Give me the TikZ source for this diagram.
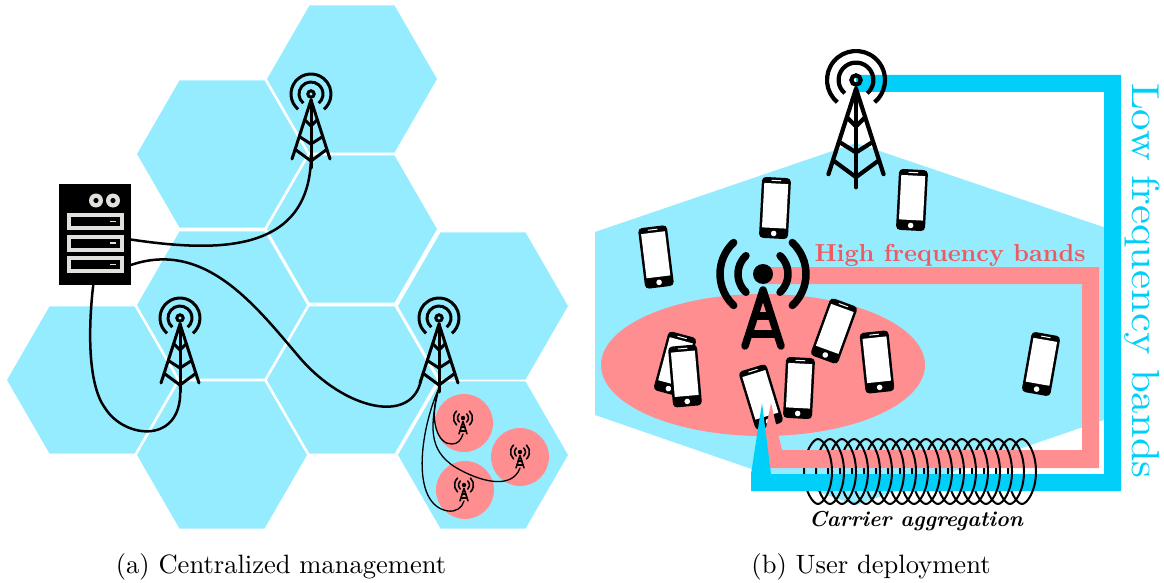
\documentclass[tikz,border=0pt]{standalone}
\usepackage{amsmath}
\usepackage{xcolor}
\usetikzlibrary{shapes.geometric}
\definecolor{cellblue}{HTML}{96ECFF}
\definecolor{lowblue}{HTML}{00CFFA}
\definecolor{highred}{HTML}{FF8E91}
\definecolor{textred}{HTML}{EF5A60}
\definecolor{rackgray}{HTML}{E2E0DC}
\tikzset{
  hexcell/.style={regular polygon, regular polygon sides=6, fill=cellblue, minimum size=170pt, inner sep=0pt},
  wire/.style={black, line width=2.5pt, line cap=round},
  thinwire/.style={black, line width=1.3pt, line cap=round},
  coil/.style={black, line width=2pt},
  tower/.pic={
    \draw[line cap=round, fill=none] (0,0) circle (3.2);
    \draw[line cap=butt] (130:12) arc (130:410:12);
    \draw[line cap=butt] (130:20) arc (130:410:20);
    \draw[line cap=round, line join=round] (-19,65) -- (0,6) -- (19,65);
    \draw[line cap=round] (0,6) -- (0,74);
    \draw[line cap=round, line join=round] (-15,56) -- (0,67) -- (15,56);
    \draw[line cap=round, line join=round] (-11,43) -- (0,50) -- (11,43);
    \draw[line cap=round, line join=round] (-6,26) -- (0,32) -- (6,26);
  },
  bigtower/.pic={
    \fill (0,0) circle (10);
    \draw[line cap=round] (-47:25) arc (-47:47:25);
    \draw[line cap=round] (-47:43) arc (-47:47:43);
    \draw[line cap=round] (133:25) arc (133:227:25);
    \draw[line cap=round] (133:43) arc (133:227:43);
    \draw[line cap=round, line join=round] (-18,72) -- (0,16) -- (18,72);
    \draw[line cap=round] (-8,42) -- (8,42);
    \draw[line cap=round] (-13,60) -- (13,60);
  },
  phone/.pic={
    \fill[black, rounded corners=4] (-14.5,-30.5) rectangle (14.5,30.5);
    \fill[white] (-12,-24.5) rectangle (12,20);
    \fill[white] (0,25.5) circle (2.8);
    \draw[white, line width=1pt, line cap=round] (-4.5,-27.5) -- (4.5,-27.5);
  }
}
\begin{document}
\begin{tikzpicture}[x=1pt, y=-1pt]
\useasboundingbox (0,0) rectangle (1164,583);
\foreach \n/\cx/\cy in {1/352/79, 2/222/154, 3/352/229, 4/222/305, 5/92/380, 6/222/455, 7/352/380, 8/483/306, 9/483/455}
  \node[hexcell] (c\n) at (\cx,\cy) {};

\fill[highred] (464,423) circle (29);
\fill[highred] (520,457) circle (29);
\fill[highred] (465,490) circle (29);

\pic[line width=3pt] at (311,94) {tower};
\pic[line width=3pt] at (180,318) {tower};
\pic[line width=3pt] at (439,318) {tower};
\pic[scale=.22, line width=1.6pt] at (463,418) {bigtower};
\pic[scale=.22, line width=1.6pt] at (520,452) {bigtower};
\pic[scale=.22, line width=1.6pt] at (464,485) {bigtower};
\coordinate (t1) at (311,155);
\coordinate (t2) at (180,385);
\coordinate (t3) at (421,380);
\coordinate (t4) at (439,388);
\coordinate (a1) at (463,434);
\coordinate (a2) at (520,468);
\coordinate (a3) at (464,501);

\node[fill=black, minimum width=72pt, minimum height=101pt, inner sep=0pt] (server) at (95,234.5) {};
\foreach \y in {213,234.5,256}{
  \fill[rackgray] (67,\y) rectangle (124,\y+17);
  \fill[black] (71,\y+4) rectangle (119.5,\y+13);
  \fill[rackgray] (109.5,\y+7.7) rectangle (116,\y+9.3);
}
\foreach \x in {96,113}{
  \fill[rackgray] (\x,200.5) circle (7);
  \fill[black] (\x,200.5) circle (2.6);
}

\draw[wire] (server.-8) .. controls (215,252) and (311,255) .. (t1);
\draw[wire] (server.-40) .. controls (205,240) and (255,305) .. (300,358) .. controls (345,410) and (412,425) .. (t3);
\draw[wire] (server.-92) .. controls (88,330) and (88,385) .. (105,408) .. controls (125,440) and (185,445) .. (t2);
\draw[thinwire] (t4) .. controls (428,420) and (438,445) .. (452,444) .. controls (458,444) and (461,440) .. (a1);
\draw[thinwire] (t4) .. controls (430,425) and (428,450) .. (455,467) .. controls (480,482) and (512,490) .. (a2);
\draw[thinwire] (t4) .. controls (420,430) and (410,505) .. (448,511) .. controls (456,512) and (462,508) .. (a3);

% right part
\fill[cellblue] (856,143) -- (1118,232) -- (1118,415) -- (856,505) -- (595,415) -- (595,232) -- cycle;
\fill[highred] (763,365) ellipse (162 and 71);

\foreach \px/\py/\pa in {656/257/7, 775/208/-3, 912/200/-3, 1041/364/-10, 877/362/6, 834/331/-20, 799/388/-3, 761/397/17, 675/364/-15, 685/376/5}
  \pic[rotate=\pa] at (\px,\py) {phone};

% coil, back half under the bands
\foreach \x in {0,...,17}
  \draw[coil, shift={(818+12*\x,504)}] (0,0) .. controls (-5,0) and (-14,-13) .. (-14,-32.5) .. controls (-14,-52) and (-5,-65) .. (0,-65);

\fill[highred] (763,267) -- (1099,267) -- (1099,468) -- (770,468) -- (765,433) -- (771,403) -- (778,433) -- (782,450) -- (1082,450) -- (1082,284) -- (763,284) -- cycle;
\fill[lowblue] (856,75) -- (1121,75) -- (1121,491) -- (751,491) -- (751,474) -- (762,403) -- (771,474) -- (1104,474) -- (1104,92) -- (856,92) -- cycle;

\foreach \x in {0,...,17}
  \draw[coil, shift={(818+12*\x,504)}] (0,0) .. controls (5,0) and (14,-13) .. (14,-32.5) .. controls (14,-52) and (5,-65) .. (0,-65);

\pic[scale=1.45, line width=4.2pt] at (856,80) {tower};
\pic[line width=7.5pt] at (763,274) {bigtower};

\node[text=textred, scale=2.46, transform shape, font=\bfseries, anchor=base] (high) at (950,261) {High frequency bands};
\node[text=lowblue, rotate=-90, xscale=4.28, yscale=3.9, transform shape, anchor=base] (low) at (1132,281) {Low frequency bands};
\node[font=\fontsize{21.6}{26}\selectfont\bfseries\itshape, anchor=base] (carrier) at (916,526) {Carrier aggregation};
\node[scale=2.655, transform shape, anchor=base] (capa) at (281,573) {(a) Centralized management};
\node[scale=2.655, transform shape, anchor=base] (capb) at (871,573) {(b) User deployment};
\end{tikzpicture}
\end{document}
